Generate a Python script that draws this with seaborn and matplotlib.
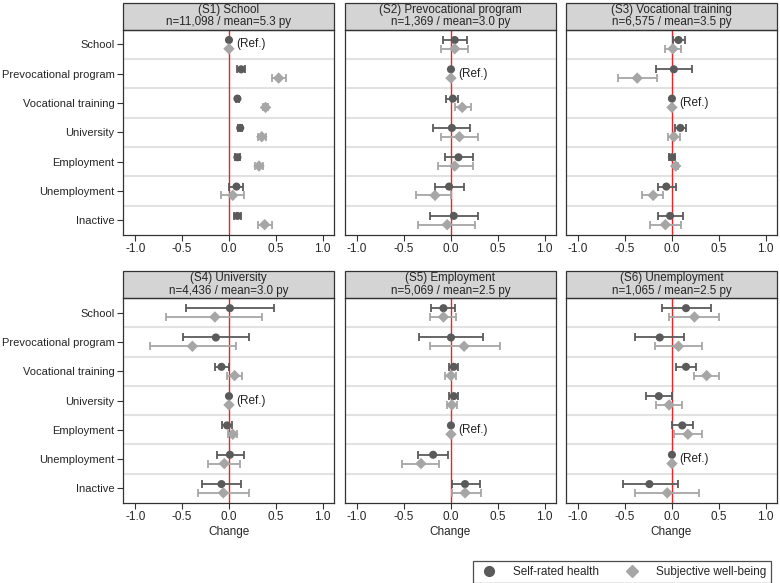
import numpy as np
import pandas as pd
import matplotlib.pyplot as plt
from matplotlib.patches import Rectangle
from matplotlib.lines import Line2D
import seaborn as sns

# categories (rows of every panel)
states = ['School', 'Prevocational program', 'Vocational training', 'University',
          'Employment', 'Unemployment', 'Inactive']

panel_titles = ['(S1) School\nn=11,098 / mean=5.3 py',
                '(S2) Prevocational program\nn=1,369 / mean=3.0 py',
                '(S3) Vocational training\nn=6,575 / mean=3.5 py',
                '(S4) University\nn=4,436 / mean=3.0 py',
                '(S5) Employment\nn=5,069 / mean=2.5 py',
                '(S6) Unemployment\nn=1,065 / mean=2.5 py']

# index of the reference category in each panel
ref_index = [0, 1, 2, 3, 4, 5]

# Self-rated health: estimate, lower and upper CI
srh_est = [[0.00, 0.13, 0.09, 0.12, 0.09, 0.08, 0.09],
           [0.04, 0.00, 0.02, 0.01, 0.08, -0.02, 0.03],
           [0.07, 0.02, 0.00, 0.09, 0.00, -0.06, -0.02],
           [0.01, -0.14, -0.08, 0.00, -0.02, 0.01, -0.08],
           [-0.08, 0.00, 0.03, 0.03, 0.00, -0.19, 0.15],
           [0.15, -0.13, 0.15, -0.14, 0.11, 0.00, -0.24]]
srh_low = [[0.00, 0.09, 0.07, 0.10, 0.06, 0.00, 0.05],
           [-0.08, 0.00, -0.05, -0.19, -0.06, -0.17, -0.22],
           [0.01, -0.17, 0.00, 0.03, -0.03, -0.15, -0.15],
           [-0.46, -0.49, -0.15, 0.00, -0.07, -0.13, -0.29],
           [-0.21, -0.34, -0.02, -0.02, 0.00, -0.35, 0.01],
           [-0.11, -0.39, 0.04, -0.28, 0.00, 0.00, -0.52]]
srh_high = [[0.00, 0.17, 0.11, 0.14, 0.12, 0.15, 0.13],
            [0.17, 0.00, 0.08, 0.20, 0.23, 0.14, 0.29],
            [0.14, 0.21, 0.00, 0.15, 0.03, 0.04, 0.12],
            [0.48, 0.21, 0.00, 0.00, 0.03, 0.16, 0.13],
            [0.04, 0.34, 0.08, 0.07, 0.00, -0.03, 0.31],
            [0.42, 0.13, 0.26, 0.00, 0.23, 0.00, 0.06]]

# Subjective well-being: estimate, lower and upper CI
swb_est = [[0.00, 0.53, 0.39, 0.35, 0.32, 0.04, 0.38],
           [0.04, 0.00, 0.12, 0.09, 0.04, -0.17, -0.04],
           [0.01, -0.37, 0.00, 0.02, 0.04, -0.20, -0.07],
           [-0.15, -0.39, 0.06, 0.00, 0.04, -0.05, -0.06],
           [-0.08, 0.14, 0.00, 0.01, 0.00, -0.32, 0.15],
           [0.24, 0.07, 0.37, -0.03, 0.17, 0.00, -0.05]]
swb_low = [[0.00, 0.46, 0.36, 0.31, 0.28, -0.08, 0.31],
           [-0.11, 0.00, 0.04, -0.11, -0.14, -0.37, -0.35],
           [-0.07, -0.58, 0.00, -0.04, 0.02, -0.32, -0.23],
           [-0.67, -0.84, -0.02, 0.00, -0.01, -0.22, -0.33],
           [-0.22, -0.22, -0.06, -0.04, 0.00, -0.52, 0.01],
           [-0.03, -0.18, 0.24, -0.17, 0.02, 0.00, -0.39]]
swb_high = [[0.00, 0.61, 0.42, 0.39, 0.36, 0.16, 0.46],
            [0.18, 0.00, 0.21, 0.29, 0.23, 0.00, 0.26],
            [0.10, -0.16, 0.00, 0.09, 0.07, -0.09, 0.10],
            [0.35, 0.07, 0.14, 0.00, 0.09, 0.12, 0.21],
            [0.05, 0.52, 0.05, 0.06, 0.00, -0.13, 0.32],
            [0.50, 0.32, 0.50, 0.11, 0.32, 0.00, 0.29]]

measures = ['Self-rated health', 'Subjective well-being']
colors = {'Self-rated health': '#5a5a5a', 'Subjective well-being': '#a6a6a6'}
markers = {'Self-rated health': 'o', 'Subjective well-being': 'D'}
offsets = {'Self-rated health': -0.15, 'Subjective well-being': 0.15}

rows = []
for p in range(6):
    for i, st in enumerate(states):
        for m, est, lo, hi in [('Self-rated health', srh_est, srh_low, srh_high),
                               ('Subjective well-being', swb_est, swb_low, swb_high)]:
            rows.append({'panel': p, 'state': st, 'pos': i, 'measure': m,
                         'est': est[p][i], 'low': lo[p][i], 'high': hi[p][i],
                         'ref': i == ref_index[p]})
df = pd.DataFrame(rows)
df['y'] = df['pos'] + df['measure'].map(offsets)

sns.set_style('white')
plt.rcParams['font.family'] = ['Liberation Sans', 'DejaVu Sans']
plt.rcParams['font.size'] = 8

fig = plt.figure(figsize=(7.8, 5.83), dpi=100)
lefts = [0.1577, 0.4423, 0.7256]
bottoms = [0.597, 0.137]
w, h = 0.2705, 0.352
head_h = 27 / 205

for p in range(6):
    r, c = divmod(p, 3)
    ax = fig.add_axes([lefts[c], bottoms[r], w, h])
    sub = df[df['panel'] == p]

    for b in np.arange(0.5, len(states) - 1, 1.0):
        ax.axhline(b, color='#e2e2e2', lw=1.5, zorder=0)
    ax.axvline(0, color='#e8262a', lw=1.0, zorder=1)

    for m in measures:
        d = sub[(sub['measure'] == m) & (~sub['ref'])]
        ax.errorbar(d['est'], d['y'], xerr=[d['est'] - d['low'], d['high'] - d['est']],
                    fmt='none', ecolor=colors[m], elinewidth=1.3, capsize=3,
                    capthick=1.3, zorder=2)

    sns.scatterplot(data=sub, x='est', y='y', hue='measure', style='measure',
                    palette=colors, markers=markers, s=34, linewidth=0,
                    legend=False, ax=ax, zorder=3)

    ref = ref_index[p]
    ax.text(0.075, ref, '(Ref.)', fontsize=8.5, va='center', ha='left', color='#222222')

    ax.set_xlim(-1.13, 1.12)
    ax.set_ylim(len(states) - 0.5, -0.5)
    ax.set_xticks([-1.0, -0.5, 0.0, 0.5, 1.0])
    ax.set_xticklabels(['-1.0', '-0.5', '0.0', '0.5', '1.0'])
    ax.set_yticks(range(len(states)))
    if c == 0:
        ax.set_yticklabels(states)
    else:
        ax.set_yticklabels([])
        ax.tick_params(axis='y', length=0)
    ax.set_ylabel('')
    ax.set_xlabel('Change' if r == 1 else '', fontsize=8.5, labelpad=2)
    ax.tick_params(axis='x', labelsize=8.5)
    ax.tick_params(axis='y', labelsize=8)
    ax.tick_params(axis='both', length=4, width=0.8, color='#333333',
                   direction='out', pad=2)
    if c == 0:
        ax.tick_params(axis='y', left=True)
    ax.tick_params(axis='x', bottom=True)
    for sp in ax.spines.values():
        sp.set_color('#333333')
        sp.set_linewidth(0.9)

    ax.add_patch(Rectangle((0, 1), 1, head_h, transform=ax.transAxes, clip_on=False,
                           facecolor='#d4d4d4', edgecolor='#333333', lw=0.9))
    ax.text(0.5, 1 + head_h / 2, panel_titles[p], transform=ax.transAxes,
            ha='center', va='center', fontsize=8.4, linespacing=1.05)

handles = [Line2D([], [], marker=markers[m], color=colors[m], linestyle='none',
                  markersize=7 if m == measures[0] else 6) for m in measures]
leg = fig.legend(handles, measures, loc='center', bbox_to_anchor=(0.797, 0.019),
                 ncol=2, frameon=True, fancybox=False, fontsize=8.5,
                 columnspacing=1.8, handletextpad=1.0, borderpad=0.4)
leg.get_frame().set_edgecolor('#222222')
leg.get_frame().set_linewidth(0.9)

fig.savefig('out.png', dpi=100)
